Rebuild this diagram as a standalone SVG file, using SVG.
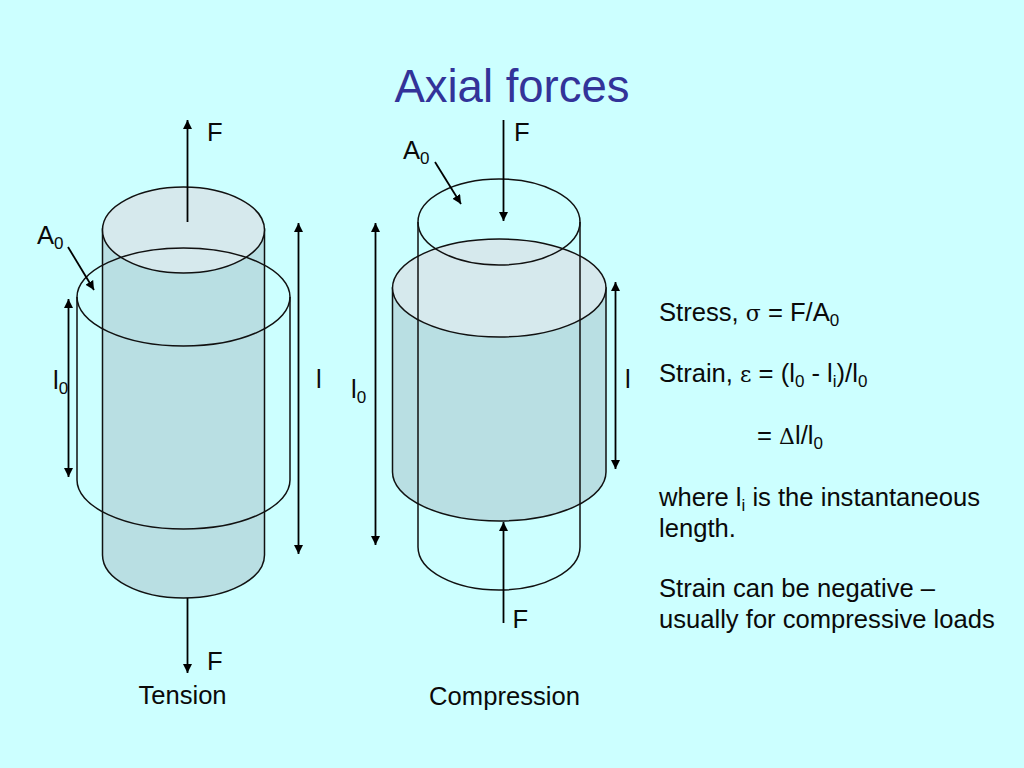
<svg xmlns="http://www.w3.org/2000/svg" width="1024" height="768" viewBox="0 0 1024 768">
<defs>
<marker id="ah" markerUnits="userSpaceOnUse" markerWidth="12" markerHeight="10" refX="9" refY="4.500" orient="auto-start-reverse"><path d="M0,0 L9,4.500 L0,9 Z" fill="#000"/></marker>
</defs>
<style>
text{font-family:"Liberation Sans",Arial,sans-serif;font-size:25.6px;fill:#0a0a0a}
.s{font-size:17px}
.g{font-family:"DejaVu Serif","Liberation Serif",serif;font-size:22px}
.o{fill:none;stroke:#111;stroke-width:1.5}
.body{fill:#b9dfe3;stroke:#111;stroke-width:1.5}
.cap{fill:#d6e9ed;stroke:#111;stroke-width:1.5}
.a{fill:none;stroke:#000;stroke-width:1.800;marker-end:url(#ah)}
.da{fill:none;stroke:#000;stroke-width:1.800;marker-end:url(#ah);marker-start:url(#ah)}
</style>
<rect width="1024" height="768" fill="#ccffff"/>
<text id="title" x="512" y="102" text-anchor="middle" style="font-size:45.500px;fill:#333399">Axial forces</text>
<g id="tension">
<path class="body" d="M102.500,229 V555 A81,43 0 0 0 264.500,555 V229 Z"/>
<ellipse class="cap" cx="183.500" cy="230" rx="81" ry="43"/>
<path class="o" d="M77,297 V480 A106.500,49 0 0 0 290,480 V297"/>
<ellipse class="o" cx="183.500" cy="297" rx="106.500" ry="49"/>
</g>
<g id="compression">
<path class="body" d="M392.500,288 V472 A106.750,49 0 0 0 606,472 V288 Z"/>
<ellipse class="cap" cx="499.250" cy="288" rx="106.750" ry="49"/>
<path class="o" d="M418,222 V547 A81,43 0 0 0 580,547 V222"/>
<ellipse class="o" cx="499" cy="222" rx="81" ry="43"/>
</g>
<g id="connectors">
<line class="a" x1="187.500" y1="222" x2="187.500" y2="120"/>
<line class="a" x1="187.500" y1="598" x2="187.500" y2="673"/>
<line class="a" x1="503.500" y1="120" x2="503.500" y2="221"/>
<line class="a" x1="503.500" y1="623" x2="503.500" y2="522"/>
<line class="da" x1="298.500" y1="554" x2="298.500" y2="223"/>
<line class="da" x1="68.500" y1="477" x2="68.500" y2="299"/>
<line class="da" x1="375.500" y1="545" x2="375.500" y2="223"/>
<line class="da" x1="615.500" y1="469" x2="615.500" y2="282"/>
<line class="a" x1="68" y1="247" x2="94" y2="290"/>
<line class="a" x1="435" y1="162" x2="461" y2="204"/>
</g>
<g id="labels">
<text x="207" y="141">F</text>
<text x="514" y="141">F</text>
<text x="207" y="669.500">F</text>
<text x="512.500" y="627.500">F</text>
<text x="37" y="244">A<tspan class="s" dy="5">0</tspan></text>
<text x="403" y="158.500">A<tspan class="s" dy="5">0</tspan></text>
<text x="53" y="389">l<tspan class="s" dy="5">0</tspan></text>
<text x="351" y="398">l<tspan class="s" dy="5">0</tspan></text>
<text x="316" y="388">l</text>
<text x="625" y="388">l</text>
<text x="182.500" y="704" text-anchor="middle">Tension</text>
<text x="504.500" y="704.500" text-anchor="middle">Compression</text>
</g>
<g id="equations">
<text x="659" y="320.500">Stress, <tspan class="g">σ</tspan> = F/A<tspan class="s" dy="5">0</tspan></text>
<text x="659" y="381.500">Strain, <tspan class="g">ε</tspan> = (l<tspan class="s" dy="5">0</tspan><tspan dy="-5"> - l</tspan><tspan class="s" dy="5">i</tspan><tspan dy="-5">)/l</tspan><tspan class="s" dy="5">0</tspan></text>
<text x="757" y="443.500">= <tspan class="g">Δ</tspan>l/l<tspan class="s" dy="5">0</tspan></text>
<text x="659" y="505.500">where l<tspan class="s" dy="5">i</tspan><tspan dy="-5"> is the instantaneous</tspan></text>
<text x="659" y="536.500">length.</text>
<text x="659" y="596.500">Strain can be negative –</text>
<text x="659" y="627.500">usually for compressive loads</text>
</g>
</svg>
